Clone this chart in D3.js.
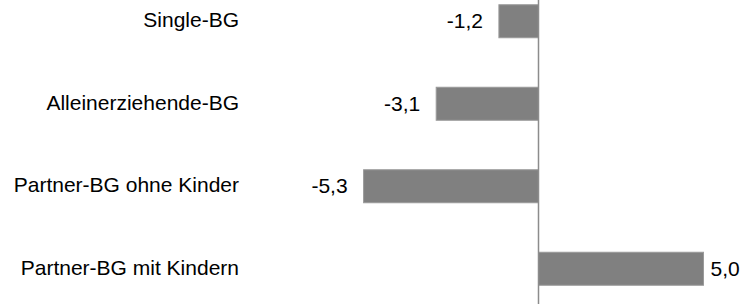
<!DOCTYPE html>
<html>
<head>
<meta charset="utf-8">
<script src="https://cdn.jsdelivr.net/npm/d3@7"></script>
<style>
  body { margin: 0; background: #fff; }
  svg { display: block; }
  text { font-family: "Liberation Sans", Arial, sans-serif; font-size: 21px; fill: #000; }
</style>
</head>
<body>
<div id="chart"></div>
<script>
const categories = ['Single-BG', 'Alleinerziehende-BG', 'Partner-BG ohne Kinder', 'Partner-BG mit Kindern'];
const values = [-1.2, -3.1, -5.3, 5.0];
const valueLabels = ['-1,2', '-3,1', '-5,3', '5,0'];

const width = 753, height = 304;

const svg = d3.select('#chart').append('svg')
  .attr('width', width)
  .attr('height', height);

const x = d3.scaleLinear()
  .domain([-5, 5])
  .range([373.5, 703.5]);

const y = d3.scaleBand()
  .domain(categories)
  .range([-20, 310])
  .paddingInner(0.6)
  .paddingOuter(0.3);

const rows = categories.map(function (c, i) {
  return { cat: c, value: values[i], label: valueLabels[i] };
});

// bars
svg.selectAll('.bar')
  .data(rows)
  .enter().append('rect')
  .attr('class', 'bar')
  .attr('x', function (d) { return Math.min(x(d.value), x(0)); })
  .attr('y', function (d) { return y(d.cat); })
  .attr('width', function (d) { return Math.abs(x(d.value) - x(0)); })
  .attr('height', y.bandwidth())
  .style('fill', '#808080')
  .style('stroke', '#9a9a9a')
  .style('stroke-width', 1);

// zero line
svg.append('line')
  .attr('x1', x(0)).attr('x2', x(0))
  .attr('y1', 0).attr('y2', height)
  .style('stroke', '#8c8c8c')
  .style('stroke-width', 1.5);

// category labels
svg.selectAll('.cat')
  .data(rows)
  .enter().append('text')
  .attr('class', 'cat')
  .attr('x', 239)
  .attr('y', function (d) { return y(d.cat) + y.bandwidth() / 2 + 6; })
  .attr('text-anchor', 'end')
  .text(function (d) { return d.cat; });

// value labels
svg.selectAll('.val')
  .data(rows)
  .enter().append('text')
  .attr('class', 'val')
  .attr('x', function (d) { return d.value < 0 ? x(d.value) - 16 : x(d.value) + 7; })
  .attr('y', function (d) { return y(d.cat) + y.bandwidth() / 2 + 7; })
  .attr('text-anchor', function (d) { return d.value < 0 ? 'end' : 'start'; })
  .text(function (d) { return d.label; });
</script>
</body>
</html>
